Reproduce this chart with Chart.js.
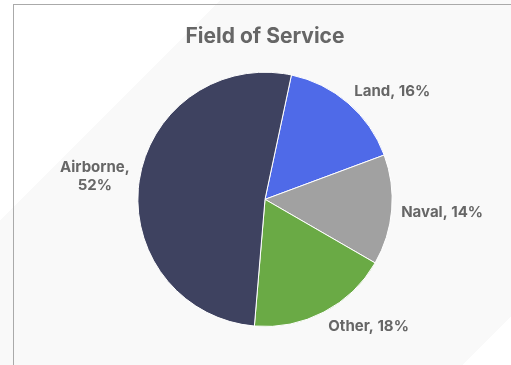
<!DOCTYPE html>
<html>
<head>
<meta charset="utf-8">
<script src="https://cdn.jsdelivr.net/npm/chart.js@4/dist/chart.umd.min.js"></script>
<style>
  html, body {
    margin: 0;
    padding: 0;
    width: 511px;
    height: 365px;
    overflow: hidden;
    background: linear-gradient(135deg, #ffffff 156px, #f9f9f9 156px, #f9f9f9 585px, #ffffff 585px);
  }
  .card {
    position: absolute;
    left: 13px;
    top: 4px;
    width: 520px;
    height: 400px;
    border: 1px solid #aaaaaa;
  }
  .wrap {
    position: absolute;
    left: 0;
    top: 0;
    width: 502px;
    height: 360px;
  }
</style>
</head>
<body>
<div class="card">
  <div class="wrap"><canvas id="chart"></canvas></div>
</div>
<script>
// Field of service breakdown
const categories = ["Land", "Naval", "Other", "Airborne"];
const shares = [16, 14, 18, 52];
const sliceColors = ["#4f6ae8", "#a1a1a1", "#6aaa45", "#3e4260"];

const LABEL_FONT = "bold 15px Inter, 'Noto Sans', sans-serif";
const LABEL_COLOR = "#666666";
const LABEL_MAX_W = 95;
const CAP_H = 11;

// outside-end labels: "Name, NN%" anchored just past the rim
const sliceLabels = {
  id: "sliceLabels",
  afterDatasetsDraw(chart) {
    const ctx = chart.ctx;
    const meta = chart.getDatasetMeta(0);
    const data = chart.data.datasets[0].data;
    const total = data.reduce((a, b) => a + b, 0);
    ctx.save();
    ctx.font = LABEL_FONT;
    ctx.fillStyle = LABEL_COLOR;
    ctx.textAlign = "center";
    ctx.textBaseline = "alphabetic";
    meta.data.forEach((arc, i) => {
      const p = arc.getProps(["x", "y", "startAngle", "endAngle", "outerRadius"], true);
      const mid = (p.startAngle + p.endAngle) / 2;
      const dx = Math.cos(mid);
      const dy = Math.sin(mid);
      const r = p.outerRadius + 9.5;
      const ax = p.x + dx * r;
      const ay = p.y + dy * r;

      const pct = Math.round((data[i] / total) * 100) + "%";
      let lines = [chart.data.labels[i] + ", " + pct];
      if (ctx.measureText(lines[0]).width > LABEL_MAX_W) {
        lines = [chart.data.labels[i] + ",", pct];
      }
      const lineH = 18.2;
      const w = Math.max(...lines.map((l) => ctx.measureText(l).width));
      const h = (lines.length - 1) * lineH + CAP_H;

      const sx = Math.abs(dx) < 0.1 ? 0 : Math.sign(dx);
      const sy = Math.max(-1, Math.min(1, dy * 2));
      const cx = ax + sx * w / 2;
      const cy = ay + sy * h / 2;

      lines.forEach((l, k) => {
        const y = cy - h / 2 + CAP_H + k * lineH;
        ctx.fillText(l, cx, y);
      });
    });
    ctx.restore();
  },
};

new Chart(document.getElementById("chart"), {
  type: "pie",
  data: {
    labels: categories,
    datasets: [
      {
        data: shares,
        backgroundColor: sliceColors,
        borderColor: "#ffffff",
        borderWidth: 1,
      },
    ],
  },
  options: {
    responsive: true,
    maintainAspectRatio: false,
    animation: false,
    rotation: 12,
    layout: { padding: { top: 0, bottom: 38, left: 0, right: 0 } },
    plugins: {
      legend: { display: false },
      tooltip: { enabled: false },
      title: {
        display: true,
        text: "Field of Service",
        color: "#666666",
        font: { family: "Inter, 'Noto Sans', sans-serif", size: 21, weight: "bold" },
        padding: { top: 19.5, bottom: 22 },
      },
    },
  },
  plugins: [sliceLabels],
});
</script>
</body>
</html>
